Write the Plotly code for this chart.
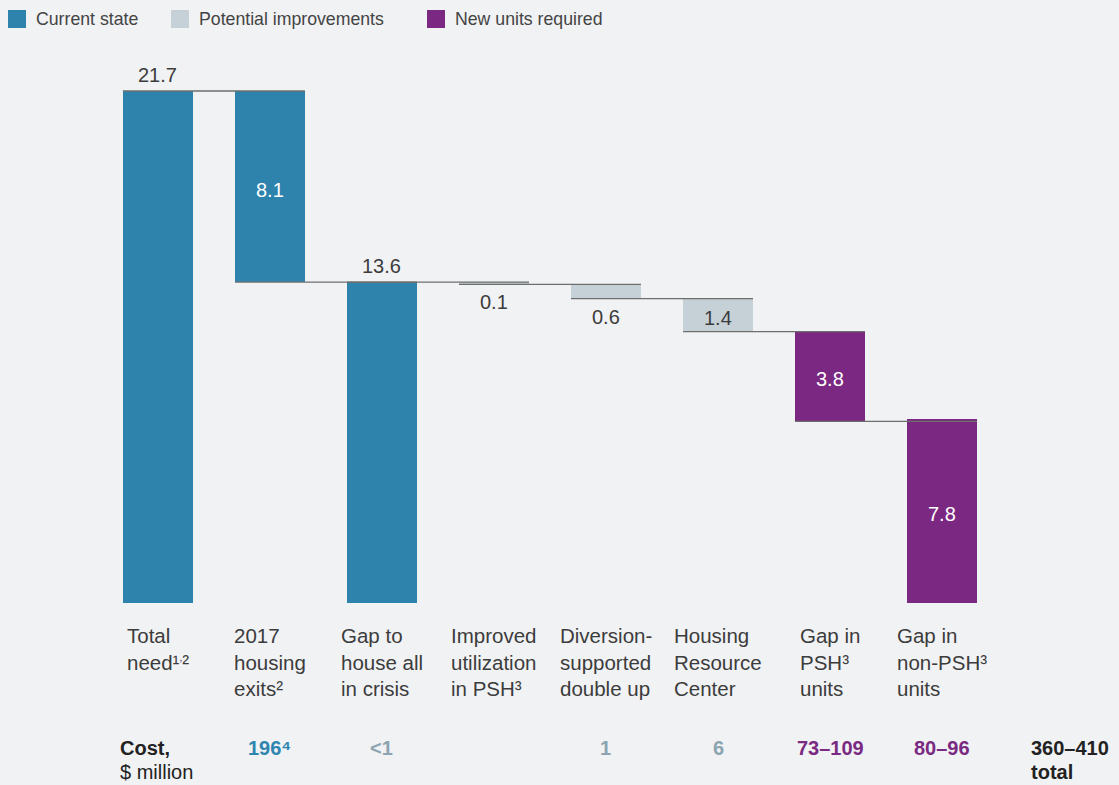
import plotly.graph_objects as go

# ---- data ----
categories = [
    "Total<br>need¹<sup><span style='font-size:10px'>,</span></sup>²",
    "2017<br>housing<br>exits²",
    "Gap to<br>house all<br>in crisis",
    "Improved<br>utilization<br>in PSH³",
    "Diversion-<br>supported<br>double up",
    "Housing<br>Resource<br>Center",
    "Gap in<br>PSH³<br>units",
    "Gap in<br>non-PSH³<br>units",
]
values = [21.7, 8.1, 13.6, 0.1, 0.6, 1.4, 3.8, 7.8]
kinds = ["total", "step", "total", "step", "step", "step", "step", "total"]
groups = ["Current state", "Current state", "Current state",
          "Potential improvements", "Potential improvements", "Potential improvements",
          "New units required", "New units required"]
label_pos = ["above", "inside", "above", "below", "below", "inside", "inside", "inside"]
cost_labels = ["", "196⁴", "<1", "", "1", "6", "73–109", "80–96"]
cost_groups = ["", "Current state", "Potential improvements", "",
               "Potential improvements", "Potential improvements",
               "New units required", "New units required"]
cost_title = ["<b>Cost,</b>", "$ million"]
cost_total = ["<b>360–410</b>", "<b>total</b>"]
legend_items = ["Current state", "Potential improvements", "New units required"]

# ---- styles ----
W, H = 1119, 785
BG = "#F1F2F4"
FONT = "Liberation Sans, Arial, sans-serif"
TXT = "#3C3C3C"
fill = {"Current state": "#2E83AD", "Potential improvements": "#C5D1D7",
        "New units required": "#7B2882"}
cost_color = {"Current state": "#2E86B0", "Potential improvements": "#8DA4B1",
              "New units required": "#7A2A82"}
inside_color = {"Current state": "white", "Potential improvements": TXT,
                "New units required": "white"}
BAR_W = 0.625

# axis ranges chosen so the plot fills the page (margins are zero)
X0, X1 = -1.41, 8.58
Y0, Y1 = -7.714, 25.557


def px_y(py):
    """page pixel row -> paper y"""
    return 1 - py / H


def px_x(px):
    return px / W


# ---- waterfall geometry from the values ----
bases, tops, levels = [], [], []
running = 0.0
for v, k in zip(values, kinds):
    if k == "total":
        b = 0.0
        running = v
    else:
        b = running - v
        running = b
    bases.append(b)
    tops.append(b + v)
    levels.append(running)

fig = go.Figure(go.Bar(
    x=list(range(len(values))),
    y=values,
    base=bases,
    width=BAR_W,
    marker=dict(color=[fill[g] for g in groups], line=dict(width=0)),
    hoverinfo="skip",
    showlegend=False,
))

shapes = []
# connectors: running level after bar i, from bar i to bar i+1
for i in range(len(values) - 1):
    shapes.append(dict(type="line", xref="x", yref="y",
                       x0=i - BAR_W / 2, x1=i + 1 + BAR_W / 2,
                       y0=levels[i], y1=levels[i],
                       line=dict(color="#6E6E6E", width=1.3), layer="above"))

annotations = []
# value labels
for i, (v, pos, g) in enumerate(zip(values, label_pos, groups)):
    if pos == "above":
        y, ys, col = tops[i], 16, TXT
    elif pos == "below":
        y, ys, col = bases[i], -18, TXT
    else:
        y, ys, col = (bases[i] + tops[i]) / 2, -3, inside_color[g]
    annotations.append(dict(x=i, y=y, xref="x", yref="y", yshift=ys,
                            text=f"{v:.1f}", showarrow=False,
                            font=dict(family=FONT, size=20, color=col),
                            xanchor="center", yanchor="middle"))

# category labels: block centred under the bar, text left-aligned
for i, c in enumerate(categories):
    annotations.append(dict(x=i, y=px_y(622), xref="x", yref="paper",
                            text=c, showarrow=False, align="left",
                            font=dict(family=FONT, size=20.5, color=TXT),
                            xanchor="center", yanchor="top"))

# cost row
ROW1, ROW2 = 748, 772
for txt, row in zip(cost_title, (ROW1, ROW2)):
    annotations.append(dict(x=px_x(118), y=px_y(row), xref="paper", yref="paper",
                            text=txt, showarrow=False, align="left",
                            font=dict(family=FONT, size=20, color="#222222"),
                            xanchor="left", yanchor="middle"))
for i, (c, g) in enumerate(zip(cost_labels, cost_groups)):
    if not c:
        continue
    annotations.append(dict(x=i, y=px_y(ROW1), xref="x", yref="paper",
                            text=f"<b>{c}</b>", showarrow=False,
                            font=dict(family=FONT, size=20, color=cost_color[g]),
                            xanchor="center", yanchor="middle"))
for txt, row in zip(cost_total, (ROW1, ROW2)):
    annotations.append(dict(x=px_x(1029), y=px_y(row), xref="paper", yref="paper",
                            text=txt, showarrow=False, align="left",
                            font=dict(family=FONT, size=20, color="#222222"),
                            xanchor="left", yanchor="middle"))

# legend
legend_x = [8, 171, 427]
for lx, name in zip(legend_x, legend_items):
    shapes.append(dict(type="rect", xref="paper", yref="paper",
                       x0=px_x(lx), x1=px_x(lx + 18), y0=px_y(28), y1=px_y(10),
                       fillcolor=fill[name], line=dict(width=0)))
    annotations.append(dict(x=px_x(lx + 26), y=px_y(19), xref="paper", yref="paper",
                            text=name, showarrow=False,
                            font=dict(family=FONT, size=17.7, color="#444444"),
                            xanchor="left", yanchor="middle"))

fig.update_layout(
    width=W, height=H,
    margin=dict(l=0, r=0, t=0, b=0),
    paper_bgcolor=BG, plot_bgcolor=BG,
    xaxis=dict(range=[X0, X1], visible=False, fixedrange=True),
    yaxis=dict(range=[Y0, Y1], visible=False, fixedrange=True),
    shapes=shapes,
    annotations=annotations,
    bargap=0,
)

fig.write_html("out.html")
